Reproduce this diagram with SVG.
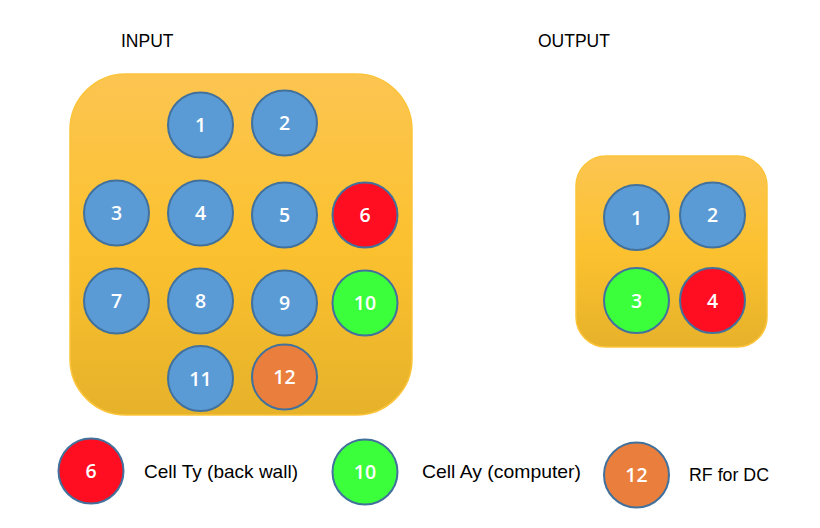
<svg xmlns="http://www.w3.org/2000/svg" width="820" height="528" viewBox="0 0 820 528">
<defs>
<linearGradient id="gold" x1="0" y1="0" x2="0" y2="1">
<stop offset="0" stop-color="#FCC551"/>
<stop offset="0.5" stop-color="#FCC12F"/>
<stop offset="1" stop-color="#E6B22A"/>
</linearGradient>
<style>
.box{fill:url(#gold);stroke:#FBC43A;stroke-width:1.5}
.c{stroke:#41719C;stroke-width:2}
.blue{fill:#5B9BD5}
.red{fill:#FF0D20}
.green{fill:#3CFF3C}
.orange{fill:#EA7E3C}
.n{font-family:"Open Sans","Liberation Sans",Arial,sans-serif;font-size:19.5px;font-weight:600;fill:#FFFFFF;text-anchor:middle}
.t{font-family:"Liberation Sans",Arial,sans-serif;font-size:19px;fill:#000000}
.h{font-family:"Liberation Sans",Arial,sans-serif;font-size:17.5px;fill:#000000}
</style>
</defs>
<rect width="820" height="528" fill="#FFFFFF"/>
<text class="h" x="121" y="47">INPUT</text>
<text class="h" x="538" y="47">OUTPUT</text>
<g id="input-box"><rect class="box" x="70" y="74" width="342" height="341" rx="56"/></g>
<g id="output-box"><rect class="box" x="576" y="156" width="191" height="191" rx="30"/></g>
<g id="in1"><circle class="c blue" cx="200.5" cy="125" r="32.5"/><text class="n" x="200.5" y="132">1</text></g>
<g id="in2"><circle class="c blue" cx="284.5" cy="123" r="32.5"/><text class="n" x="284.5" y="130">2</text></g>
<g id="in3"><circle class="c blue" cx="116.5" cy="213" r="32.5"/><text class="n" x="116.5" y="220">3</text></g>
<g id="in4"><circle class="c blue" cx="200.5" cy="213" r="32.5"/><text class="n" x="200.5" y="220">4</text></g>
<g id="in5"><circle class="c blue" cx="284.5" cy="215" r="32.5"/><text class="n" x="284.5" y="222">5</text></g>
<g id="in6"><circle class="c red" cx="365" cy="215" r="32.5"/><text class="n" x="365" y="222">6</text></g>
<g id="in7"><circle class="c blue" cx="116.5" cy="301" r="32.5"/><text class="n" x="116.5" y="308">7</text></g>
<g id="in8"><circle class="c blue" cx="200.5" cy="301" r="32.5"/><text class="n" x="200.5" y="308">8</text></g>
<g id="in9"><circle class="c blue" cx="284.5" cy="303" r="32.5"/><text class="n" x="284.5" y="310">9</text></g>
<g id="in10"><circle class="c green" cx="365" cy="303" r="32.5"/><text class="n" x="365" y="310">10</text></g>
<g id="in11"><circle class="c blue" cx="200.5" cy="378.5" r="32.5"/><text class="n" x="200.5" y="385.5">11</text></g>
<g id="in12"><circle class="c orange" cx="284.5" cy="377" r="32.5"/><text class="n" x="284.5" y="384">12</text></g>
<g id="out1"><circle class="c blue" cx="636.5" cy="217.5" r="32.5"/><text class="n" x="636.5" y="224.5">1</text></g>
<g id="out2"><circle class="c blue" cx="712.5" cy="215" r="32.5"/><text class="n" x="712.5" y="222">2</text></g>
<g id="out3"><circle class="c green" cx="636.5" cy="300.5" r="32.5"/><text class="n" x="636.5" y="307.5">3</text></g>
<g id="out4"><circle class="c red" cx="712.5" cy="300.5" r="32.5"/><text class="n" x="712.5" y="307.5">4</text></g>
<g id="legend-6"><circle class="c red" cx="91" cy="471" r="32.5"/><text class="n" x="91" y="478">6</text><text class="t" x="144" y="477.5" textLength="154" lengthAdjust="spacingAndGlyphs">Cell Ty (back wall)</text></g>
<g id="legend-10"><circle class="c green" cx="365" cy="472" r="32.5"/><text class="n" x="365" y="479">10</text><text class="t" x="422" y="477.5" textLength="159" lengthAdjust="spacingAndGlyphs">Cell Ay (computer)</text></g>
<g id="legend-12"><circle class="c orange" cx="636.5" cy="475" r="32.5"/><text class="n" x="636.5" y="482">12</text><text class="t" x="689" y="481" textLength="80" lengthAdjust="spacingAndGlyphs">RF for DC</text></g>
</svg>
